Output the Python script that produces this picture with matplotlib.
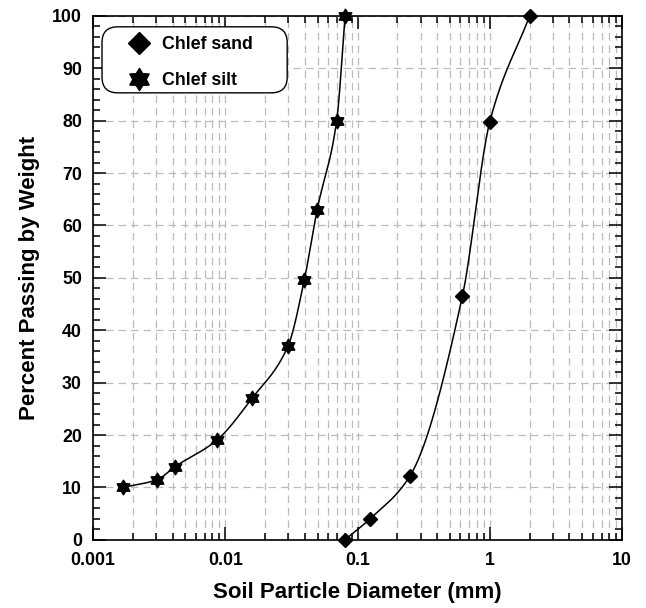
import numpy as np
import matplotlib
matplotlib.use("Agg")
import matplotlib.pyplot as plt
from matplotlib.path import Path
from matplotlib.patches import FancyBboxPatch
from matplotlib.ticker import LogLocator, FixedLocator, NullFormatter, FixedFormatter, MultipleLocator

plt.rcParams['font.family'] = ['Liberation Sans', 'DejaVu Sans']
plt.rcParams['font.weight'] = 'bold'

sand_d = [0.08, 0.124, 0.249, 0.62, 1.0, 2.0]
sand_p = [0.0, 4.0, 12.2, 46.5, 79.8, 100.0]
silt_d = [0.00168, 0.00305, 0.00418, 0.0086, 0.0159, 0.0298, 0.0395, 0.0495, 0.0695, 0.0805]
silt_p = [10.0, 11.5, 14.0, 19.0, 27.0, 37.0, 49.5, 63.0, 80.0, 100.0]
x_ticks = [0.001, 0.01, 0.1, 1, 10]
x_labels = ['0.001', '0.01', '0.1', '1', '10']
y_ticks = list(range(0, 101, 10))


def pchip(x, y, xn):
    x = np.asarray(x, float); y = np.asarray(y, float)
    h = np.diff(x); d = np.diff(y) / h
    n = len(x); m = np.zeros(n)
    for k in range(1, n - 1):
        if d[k - 1] * d[k] > 0:
            w1 = 2 * h[k] + h[k - 1]; w2 = h[k] + 2 * h[k - 1]
            m[k] = (w1 + w2) / (w1 / d[k - 1] + w2 / d[k])
    m[0] = d[0]; m[-1] = d[-1]
    out = np.empty_like(xn)
    for i, xv in enumerate(xn):
        k = min(max(np.searchsorted(x, xv) - 1, 0), n - 2)
        t = (xv - x[k]) / h[k]
        h00 = 2*t**3 - 3*t**2 + 1; h10 = t**3 - 2*t**2 + t
        h01 = -2*t**3 + 3*t**2; h11 = t**3 - t**2
        out[i] = h00*y[k] + h10*h[k]*m[k] + h01*y[k+1] + h11*h[k]*m[k+1]
    return out


star = Path.unit_regular_star(6, 0.6)

fig = plt.figure(figsize=(6.46, 6.08), dpi=100)
ax = fig.add_axes([0.144, 0.112, 0.819, 0.862])
ax.set_xscale('log')
ax.set_xlim(0.001, 10)
ax.set_ylim(0, 100)

for d, p in [(sand_d, sand_p), (silt_d, silt_p)]:
    lx = np.log10(d)
    xs = np.linspace(lx[0], lx[-1], 400)
    ys = pchip(lx, p, xs)
    ax.plot(10 ** xs, ys, color='black', lw=1.1, zorder=3)

ax.plot(sand_d, sand_p, linestyle='none', marker='D', ms=7.3, color='black',
        label='Chlef sand', zorder=4, clip_on=False)
ax.plot(silt_d, silt_p, linestyle='none', marker=star, ms=10.5, color='black',
        label='Chlef silt', zorder=4, clip_on=False)

ax.xaxis.set_major_locator(FixedLocator(x_ticks))
ax.xaxis.set_major_formatter(FixedFormatter(x_labels))
ax.xaxis.set_minor_locator(LogLocator(base=10, subs=np.arange(2, 10)))
ax.xaxis.set_minor_formatter(NullFormatter())
ax.yaxis.set_major_locator(FixedLocator(y_ticks))
ax.yaxis.set_minor_locator(MultipleLocator(2))

ax.tick_params(which='both', direction='in', top=True, right=True, width=1.1)
ax.tick_params(which='major', length=9.5, labelsize=12.8)
ax.tick_params(axis='x', which='major', pad=9)
ax.tick_params(axis='y', which='major', pad=8)
ax.tick_params(which='minor', length=5)
for lab in ax.get_xticklabels() + ax.get_yticklabels():
    lab.set_fontweight('bold')

ax.grid(True, which='major', axis='y', color='#bbbbbb', linestyle=(0, (6, 4)), lw=0.9)
ax.grid(True, which='both', axis='x', color='#bbbbbb', linestyle=(0, (6, 4)), lw=0.9)
ax.set_axisbelow(True)
for s in ax.spines.values():
    s.set_linewidth(1.2)

ax.set_xlabel('Soil Particle Diameter (mm)', fontsize=16, fontweight='bold', labelpad=9)
ax.set_ylabel('Percent Passing by Weight', fontsize=16, fontweight='bold', labelpad=8.5)

# legend frame (rounded)
frame = FancyBboxPatch((0.017, 0.853), 0.35, 0.126, transform=ax.transAxes,
                       boxstyle='round,pad=0,rounding_size=0.03', facecolor='white',
                       edgecolor='black', lw=1.0, zorder=5)
ax.add_patch(frame)
leg = ax.legend(loc='upper left', bbox_to_anchor=(0.06, 0.962), frameon=False,
                prop={'size': 12.8, 'weight': 'bold'}, borderpad=0, borderaxespad=0,
                labelspacing=1.09, handletextpad=0.5, handlelength=1.6)
leg.set_zorder(6)
hs = leg.legend_handles
hs[0].set_markersize(11.5)
hs[1].set_markersize(16)

fig.savefig('out.png', dpi=100)
